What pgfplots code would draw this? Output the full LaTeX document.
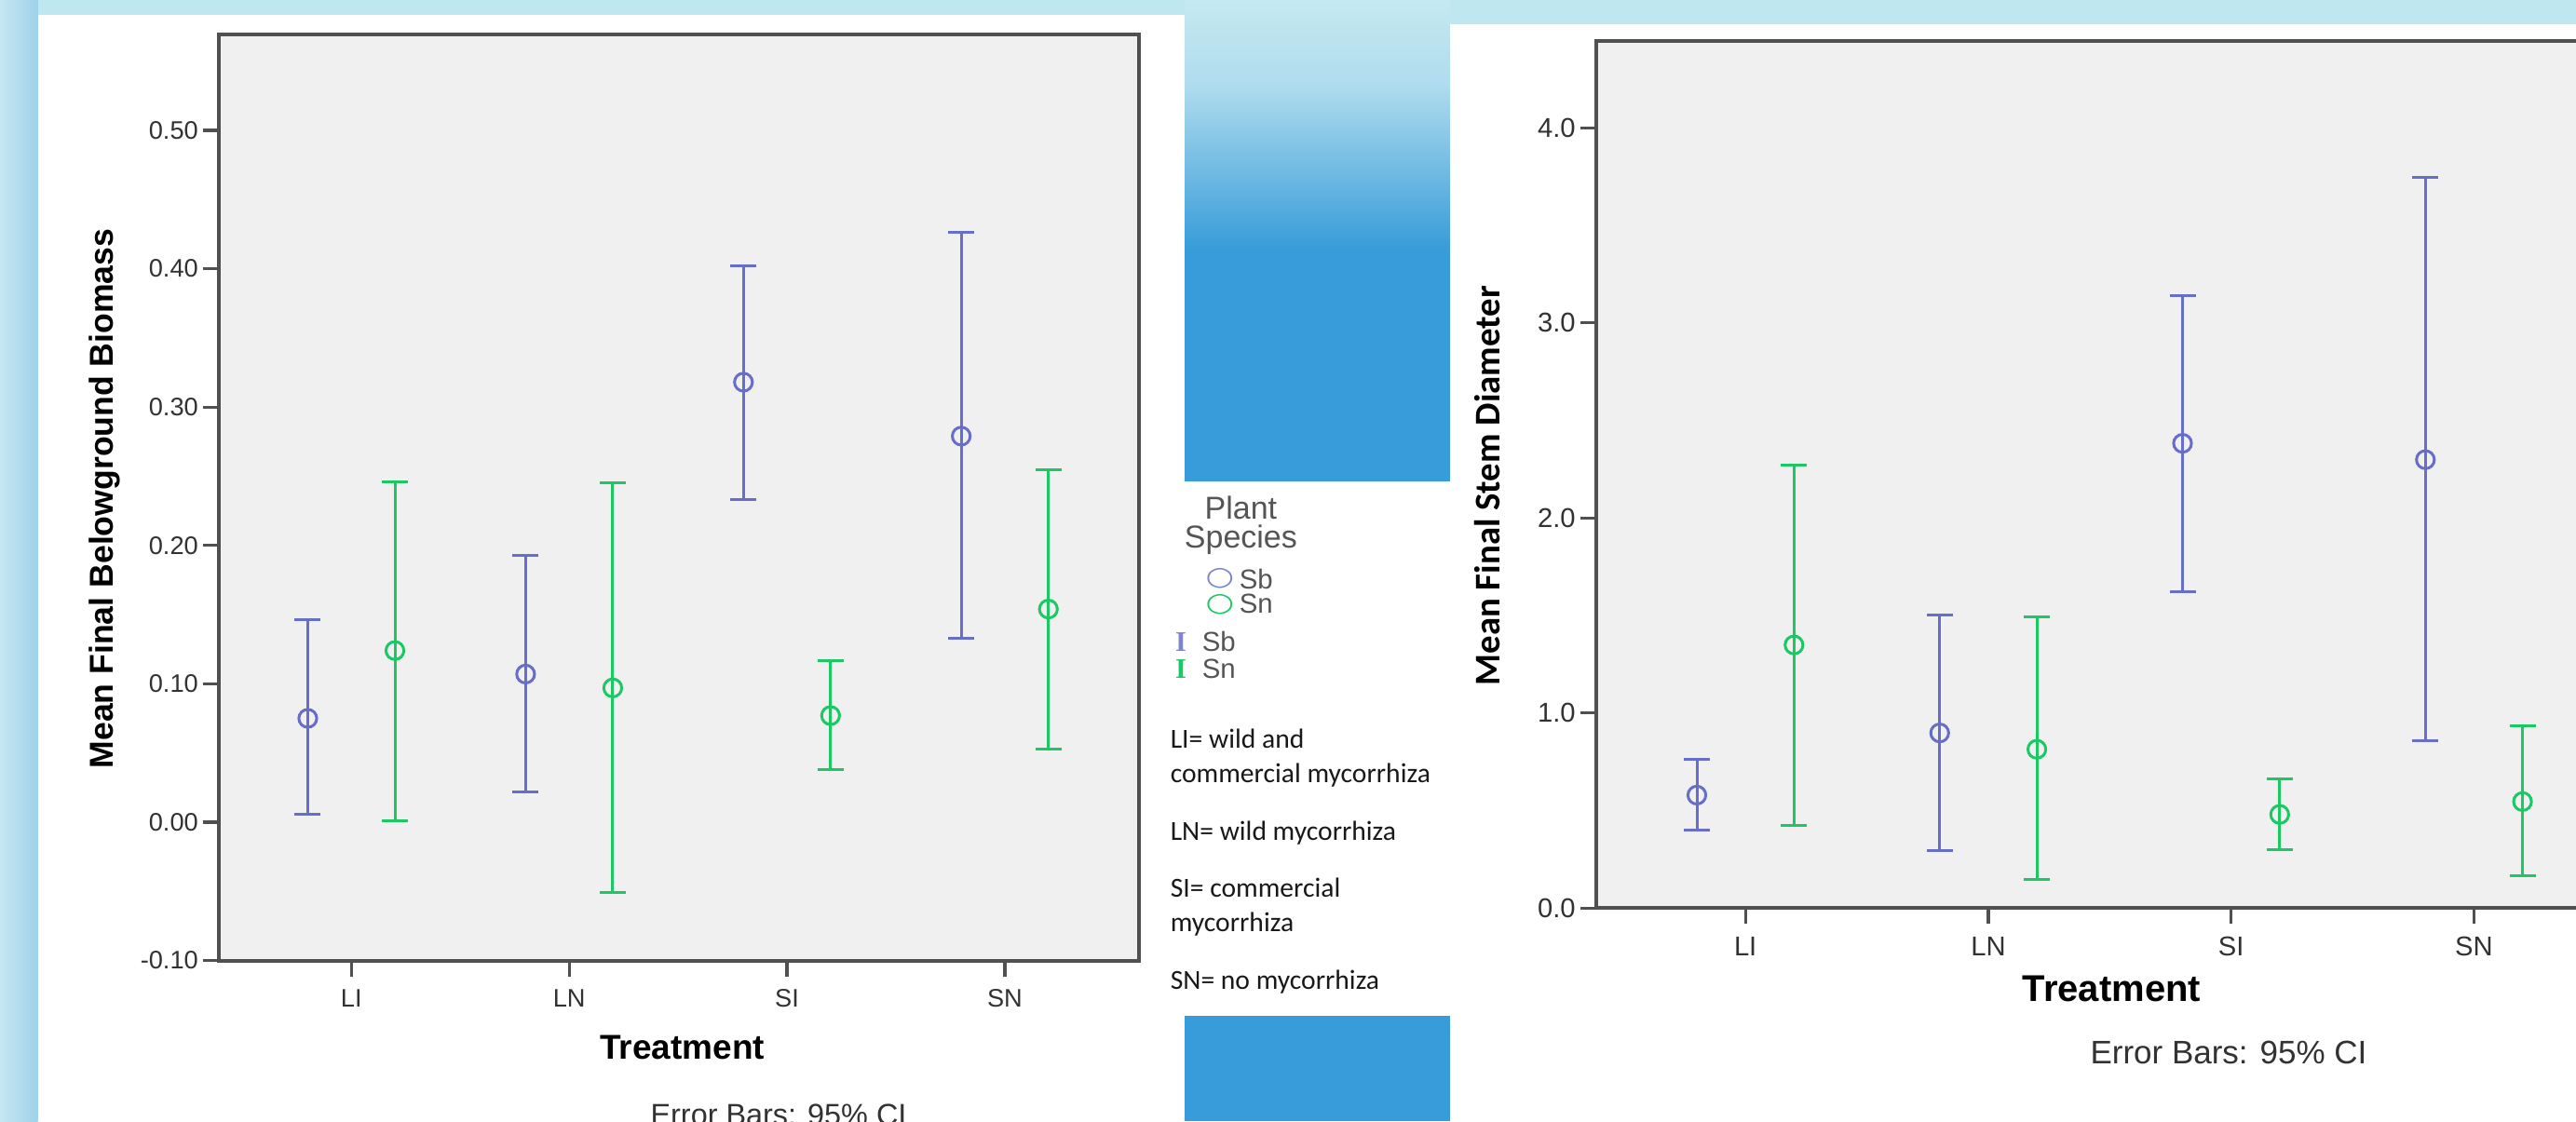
\documentclass[border=0pt]{standalone}
\usepackage{pgfplots}
\pgfplotsset{compat=1.18}
\usepackage{pgfplotstable}
\usepackage{fontspec}
\setmainfont{Liberation Sans}
\newfontfamily\calib{Carlito}
\newfontfamily\serifI{Liberation Serif}
\newfontfamily\djv{DejaVu Sans}
\definecolor{sbcol}{RGB}{102,110,202}
\definecolor{sncol}{RGB}{28,200,100}
\definecolor{axgray}{RGB}{80,80,80}
\definecolor{txtgray}{RGB}{50,50,50}
\definecolor{leggray}{RGB}{85,85,85}
\definecolor{plotbg}{RGB}{240,240,240}
\definecolor{topcyan}{RGB}{190,231,240}
\definecolor{midblue}{RGB}{55,156,217}
\definecolor{lightblue}{RGB}{197,233,240}
\definecolor{paleblue}{RGB}{176,220,238}
\definecolor{stripL}{RGB}{198,230,243}
\definecolor{stripR}{RGB}{159,209,234}

\pgfplotstableread{
x m lo hi
-0.2 0.075 0.006 0.146
0.8 0.107 0.022 0.193
1.8 0.318 0.233 0.402
2.8 0.279 0.133 0.426
}\LSb
\pgfplotstableread{
x m lo hi
0.2 0.124 0.001 0.246
1.2 0.097 -0.051 0.245
2.2 0.077 0.038 0.117
3.2 0.154 0.053 0.255
}\LSn
\pgfplotstableread{
x m lo hi
-0.2 0.579 0.400 0.763
0.8 0.898 0.297 1.503
1.8 2.383 1.624 3.142
2.8 2.299 0.858 3.747
}\RSb
\pgfplotstableread{
x m lo hi
0.2 1.349 0.425 2.269
1.2 0.814 0.147 1.492
2.2 0.480 0.301 0.664
3.2 0.546 0.165 0.935
}\RSn

\pgfplotsset{
  spss/.style={
    scale only axis, clip=false,
    axis background/.style={fill=plotbg},
    axis line style={draw=axgray, line width=1pt},
    tick style={draw=axgray, line width=0.8pt},
    tick align=outside, major tick length=4.25pt,
    xtick pos=bottom, ytick pos=left,
    xtick={0,1,2,3}, xticklabels={LI,LN,SI,SN},
    ticklabel style={text=txtgray},
    /pgf/number format/assume math mode=true,
  },
  errplot/.style={
    only marks, mark=o, mark size=2.4pt, draw=#1,
    mark options={line width=0.75pt, draw=#1, fill=none},
    error bars/.cd, y dir=both, y explicit,
    error bar style={line width=0.75pt, draw=#1},
    error mark options={rotate=90, mark size=3.5pt, line width=0.75pt, draw=#1},
  },
}

\begin{document}
\begin{tikzpicture}
\clip (0pt,0pt) rectangle (691.5pt,301pt);
% backgrounds
\fill[topcyan] (0pt,0pt) rectangle (691.5pt,301pt);
\shade[left color=stripL, right color=stripR] (0pt,0pt) rectangle (10.125pt,301pt);
\fill[white] (10.125pt,0pt) rectangle (318pt,297pt);
\shade[top color=lightblue, bottom color=paleblue] (318pt,278.5pt) rectangle (389.25pt,301pt);
\shade[top color=paleblue, bottom color=midblue] (318pt,234pt) rectangle (389.25pt,278.5pt);
\fill[midblue] (318pt,171.75pt) rectangle (389.25pt,234pt);
\fill[white] (318pt,28.25pt) rectangle (389.25pt,171.75pt);
\fill[midblue] (318pt,0pt) rectangle (389.25pt,28.25pt);
\fill[white] (389.25pt,0pt) rectangle (691.5pt,294.5pt);

% left chart
\begin{axis}[spss,
  at={(58.65pt,43.125pt)}, anchor=south west,
  width=247.05pt, height=248.5pt,
  xmin=-0.61, xmax=3.615, ymin=-0.1, ymax=0.569,
  ytick={-0.1,0,0.1,0.2,0.3,0.4,0.5},
  yticklabels={-0.10,0.00,0.10,0.20,0.30,0.40,0.50},
  ticklabel style={font=\fontsize{6.8}{8}\selectfont},
  yticklabel style={inner xsep=1pt},
  xlabel={Treatment},
  xlabel style={font=\fontsize{9.25}{11}\selectfont\bfseries, at={(axis description cs:0.504,-0.0942)}, anchor=center},
  ylabel={Mean Final Belowground Biomass},
  ylabel style={font=\fontsize{8.9}{10.5}\selectfont\bfseries, at={(axis description cs:-0.1241,0.499)}, anchor=center},
]
\addplot[errplot=sbcol] table[x=x, y=m, y error plus expr=\thisrow{hi}-\thisrow{m}, y error minus expr=\thisrow{m}-\thisrow{lo}] {\LSb};
\addplot[errplot=sncol] table[x=x, y=m, y error plus expr=\thisrow{hi}-\thisrow{m}, y error minus expr=\thisrow{m}-\thisrow{lo}] {\LSn};
\end{axis}

% right chart
\begin{axis}[spss,
  at={(428.45pt,57.2pt)}, anchor=south west,
  width=275.75pt, height=232.85pt,
  xmin=-0.615, xmax=3.615, ymin=0, ymax=4.447,
  ytick={0,1,2,3,4},
  yticklabels={0.0,1.0,2.0,3.0,4.0},
  ticklabel style={font=\fontsize{7.3}{8.5}\selectfont},
  yticklabel style={inner xsep=1.1pt},
  xlabel={Treatment},
  xlabel style={font=\fontsize{10}{12}\selectfont\bfseries, at={(axis description cs:0.502,-0.0932)}, anchor=center},
  ylabel={Mean Final Stem Diameter},
  ylabel style={font=\fontsize{9.7}{11.5}\selectfont\calib\bfseries, at={(axis description cs:-0.1063,0.487)}, anchor=center},
]
\addplot[errplot=sbcol] table[x=x, y=m, y error plus expr=\thisrow{hi}-\thisrow{m}, y error minus expr=\thisrow{m}-\thisrow{lo}] {\RSb};
\addplot[errplot=sncol] table[x=x, y=m, y error plus expr=\thisrow{hi}-\thisrow{m}, y error minus expr=\thisrow{m}-\thisrow{lo}] {\RSn};
\end{axis}

% footnotes
\node[anchor=base, text=txtgray, font=\fontsize{8.1}{10}\selectfont, inner sep=0pt] at (209pt,-1.2pt) {Error Bars: 95\% CI};
\node[anchor=base, text=txtgray, font=\fontsize{8.75}{10}\selectfont, inner sep=0pt] at (598.25pt,15.4pt) {Error Bars: 95\% CI};

% legend
\node[anchor=base, text=leggray, font=\fontsize{8.5}{10}\selectfont, inner sep=0pt] at (333.1pt,161.6pt) {Plant};
\node[anchor=base, text=leggray, font=\fontsize{8.5}{10}\selectfont, inner sep=0pt] at (333.1pt,153.8pt) {Species};
\node[anchor=center, text=sbcol!85, font=\fontsize{7}{8}\selectfont\djv, inner sep=0pt] at (327.5pt,145.6pt) {\scalebox{1.25}[1]{○}};
\node[anchor=center, text=sncol, font=\fontsize{7}{8}\selectfont\djv, inner sep=0pt] at (327.5pt,138.7pt) {\scalebox{1.25}[1]{○}};
\node[anchor=base west, text=leggray, font=\fontsize{7.35}{9}\selectfont, inner sep=0pt] at (332.5pt,143pt) {Sb};
\node[anchor=base west, text=leggray, font=\fontsize{7.35}{9}\selectfont, inner sep=0pt] at (332.5pt,136.3pt) {Sn};
\node[anchor=center, text=sbcol!85, font=\fontsize{7.6}{8}\selectfont\serifI\bfseries, inner sep=0pt] at (317pt,128.5pt) {I};
\node[anchor=center, text=sncol, font=\fontsize{7.6}{8}\selectfont\serifI\bfseries, inner sep=0pt] at (317pt,121.25pt) {I};
\node[anchor=base west, text=leggray, font=\fontsize{7.35}{9}\selectfont, inner sep=0pt] at (322.5pt,126.25pt) {Sb};
\node[anchor=base west, text=leggray, font=\fontsize{7.35}{9}\selectfont, inner sep=0pt] at (322.5pt,118.8pt) {Sn};

\begin{scope}[every node/.style={anchor=base west, inner sep=0pt, text=black!90, font=\fontsize{7.4}{9}\selectfont\calib}]
\node at (314pt,100.25pt) {LI= wild and};
\node at (314pt,90.85pt) {commercial mycorrhiza};
\node at (314pt,75.35pt) {LN= wild mycorrhiza};
\node at (314pt,60.05pt) {SI= commercial};
\node at (314pt,50.95pt) {mycorrhiza};
\node at (314pt,35.5pt) {SN= no mycorrhiza};
\end{scope}
\end{tikzpicture}
\end{document}
